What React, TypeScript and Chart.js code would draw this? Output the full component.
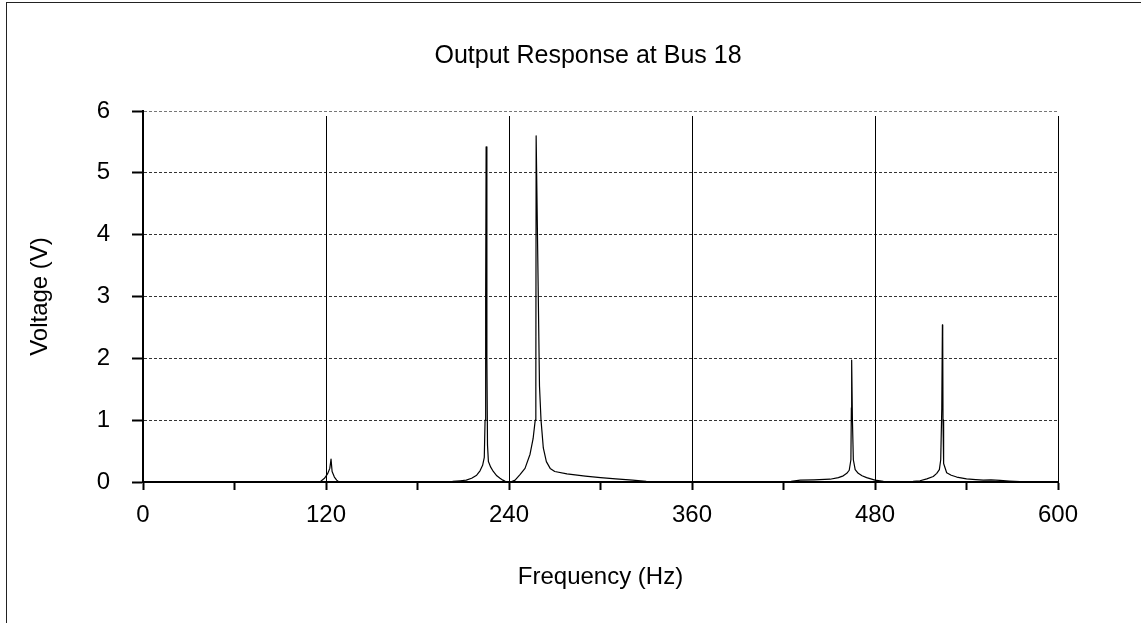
import React, { useEffect, useRef } from "react";
import { Chart, registerables } from "chart.js";

Chart.register(...registerables);

// Frequency sweep samples (Hz) and the measured bus voltage (V) at each one
const frequencyHz = [
  0, 116, 119, 121, 122.5, 123.3, 124, 125.5, 127, 128.5,
  195, 197, 203, 208, 212, 215.5, 218.8, 221, 222.7, 223.8, 224.3, 224.7, 225.0, 225.5, 225.9,
  226.5, 228, 229.7, 232, 234.1, 236, 237.5,
  241, 244, 247.2, 250.5, 253.8, 255.8, 257.2, 257.6, 257.8, 260.0, 261.0, 262.5, 264.5, 267,
  270, 278, 290, 300, 310, 321, 330, 338,
  415, 425, 431, 440, 450.5, 456, 459.2, 461.5, 463.1, 464.2, 464.5, 464.7, 465.2, 465.8,
  467, 469, 471.5, 474.5, 480, 485.5, 490,
  495, 500, 505, 509.5, 514, 518.2, 520.5, 522.2, 523.1, 523.8, 524.2, 524.4, 524.6, 525,
  527, 530, 533.6, 540, 546, 551, 556, 562, 568, 575, 580, 600,
];

const voltageV = [
  0, 0, 0.06, 0.13, 0.22, 0.37, 0.17, 0.08, 0.03, 0,
  0, 0.005, 0.01, 0.02, 0.03, 0.06, 0.11, 0.18, 0.27, 0.4, 1.0, 3.0, 5.42, 2.0, 0.6,
  0.33, 0.24, 0.17, 0.1, 0.06, 0.03, 0.01,
  0, 0.03, 0.12, 0.22, 0.45, 0.7, 1.0, 1.5, 5.6, 1.55, 1.0, 0.55, 0.33, 0.22,
  0.17, 0.13, 0.095, 0.07, 0.05, 0.03, 0.01, 0,
  0, 0.01, 0.03, 0.035, 0.045, 0.07, 0.1, 0.14, 0.19, 0.36, 1.2, 1.97, 1.0, 0.36,
  0.2, 0.14, 0.1, 0.07, 0.03, 0.01, 0,
  0, 0.005, 0.01, 0.02, 0.05, 0.09, 0.14, 0.2, 0.36, 1.2, 2.54, 2.36, 1.0, 0.3,
  0.15, 0.11, 0.08, 0.05, 0.04, 0.03, 0.035, 0.025, 0.015, 0.005, 0, 0,
];

const xMin = 0;
const xMax = 600;
const xTickStep = 60;
const xLabelStep = 120;
const yMin = 0;
const yMax = 6;
const yTickStep = 1;
const verticalGridHz = [120, 240, 360, 480, 600];

const chartTitle = "Output Response at Bus 18";
const xAxisTitle = "Frequency (Hz)";
const yAxisTitle = "Voltage (V)";

const FONT = "'Liberation Sans', Arial, Helvetica, sans-serif";

// Solid vertical grid lines at the labelled frequencies
const verticalGridPlugin = {
  id: "verticalGrid",
  beforeDatasetsDraw(chart: any) {
    const { ctx, chartArea, scales } = chart;
    ctx.save();
    ctx.strokeStyle = "#000";
    ctx.lineWidth = 1;
    for (const hz of verticalGridHz) {
      const x = Math.round(scales.x.getPixelForValue(hz)) + 0.5;
      ctx.beginPath();
      ctx.moveTo(x, chartArea.top + 5);
      ctx.lineTo(x, chartArea.bottom);
      ctx.stroke();
    }
    ctx.restore();
  },
};

// Chart heading
const headingPlugin = {
  id: "heading",
  afterDraw(chart: any) {
    const { ctx } = chart;
    ctx.save();
    ctx.font = `25px ${FONT}`;
    ctx.fillStyle = "#000";
    ctx.textAlign = "center";
    ctx.textBaseline = "middle";
    ctx.fillText(chartTitle, 588, 56);
    ctx.restore();
  },
};

function ResponseChart() {
  const canvasRef = useRef<HTMLCanvasElement | null>(null);

  useEffect(() => {
    if (!canvasRef.current) return;
    const points = frequencyHz.map((f, i) => ({ x: f, y: voltageV[i] }));

    const chart = new Chart(canvasRef.current, {
      type: "scatter",
      data: {
        datasets: [
          {
            data: points,
            showLine: true,
            borderColor: "#000",
            borderWidth: 1.2,
            borderJoinStyle: "round",
            pointRadius: 0,
            tension: 0,
            fill: false,
          },
        ],
      },
      options: {
        responsive: false,
        animation: false,
        devicePixelRatio: 1,
        layout: { padding: { left: 0, right: 83, top: 111, bottom: 0 } },
        plugins: {
          legend: { display: false },
          title: { display: false },
          tooltip: { enabled: false },
        },
        scales: {
          x: {
            type: "linear",
            min: xMin,
            max: xMax,
            afterFit(scale: any) {
              scale.height = 141;
            },
            ticks: {
              stepSize: xTickStep,
              autoSkip: false,
              maxRotation: 0,
              padding: 11,
              color: "#000",
              font: { family: FONT, size: 24 },
              callback: (v: any) => (Number(v) % xLabelStep === 0 ? String(v) : ""),
            },
            grid: {
              drawOnChartArea: false,
              drawTicks: true,
              tickLength: 8,
              tickColor: "#000",
              tickWidth: 2,
            },
            border: { display: true, color: "#000", width: 2 },
            title: {
              display: true,
              text: xAxisTitle,
              color: "#000",
              font: { family: FONT, size: 24 },
              padding: { top: 0, bottom: 31 },
            },
          },
          y: {
            min: yMin,
            max: yMax,
            afterFit(scale: any) {
              scale.width = 143;
            },
            ticks: {
              stepSize: yTickStep,
              padding: 22,
              color: "#000",
              font: { family: FONT, size: 24 },
            },
            grid: {
              drawTicks: true,
              tickLength: 11,
              tickColor: "#000",
              tickWidth: 2,
              color: (ctx: any) => (ctx.tick && ctx.tick.value === yMax ? "#777" : "#333"),
              lineWidth: 1,
            },
            border: { display: true, color: "#000", width: 2, dash: [3, 2] },
            title: {
              display: true,
              text: yAxisTitle,
              color: "#000",
              font: { family: FONT, size: 24 },
              padding: { top: 26, bottom: 0 },
            },
          },
        },
      },
      plugins: [verticalGridPlugin, headingPlugin],
    });

    return () => chart.destroy();
  }, []);

  return <canvas ref={canvasRef} width={1141} height={623} style={{ position: "absolute", left: 0, top: 0 }} />;
}

export default function App() {
  return (
    <div
      style={{
        position: "fixed",
        left: 0,
        top: 0,
        width: 1141,
        height: 623,
        overflow: "hidden",
        background: "#fff",
      }}
    >
      <div
        style={{
          position: "absolute",
          left: 6,
          top: 2,
          width: 1400,
          height: 900,
          borderLeft: "1px solid #222",
          borderTop: "1px solid #222",
        }}
      />
      <ResponseChart />
    </div>
  );
}
